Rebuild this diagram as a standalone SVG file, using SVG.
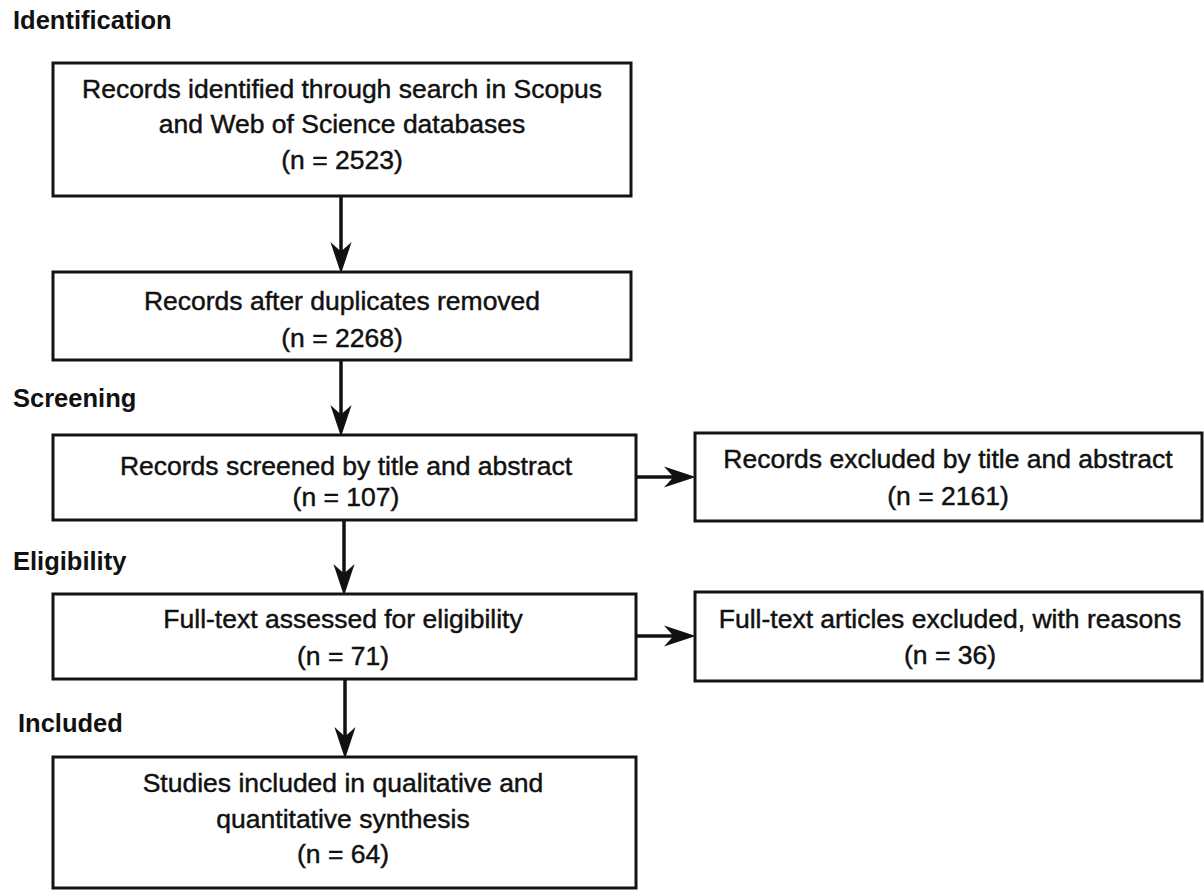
<svg xmlns="http://www.w3.org/2000/svg" width="1204" height="890" viewBox="0 0 1204 890">
  <style>
    .box { fill: #ffffff; stroke: #141414; stroke-width: 3; }
    .t { font-family: "Liberation Sans", Arial, sans-serif; font-size: 26.5px; fill: #111111; stroke: #111111; stroke-width: 0.45; text-anchor: middle; }
    .lbl { font-family: "Liberation Sans", Arial, sans-serif; font-size: 25.5px; font-weight: bold; fill: #111111; }
    .conn { stroke: #111111; stroke-width: 3.5; fill: none; marker-end: url(#ah); }
  </style>
  <defs>
    <marker id="ah" markerUnits="userSpaceOnUse" markerWidth="40" markerHeight="30" viewBox="-20 -12 34 24" refX="0" refY="0" orient="auto" overflow="visible">
      <path d="M10,0 L-17,-9 L-9,0 L-17,9 Z" fill="#111111"/>
    </marker>
  </defs>
  <rect x="0" y="0" width="1204" height="890" fill="#ffffff"/>

  <g id="labels">
    <text class="lbl" x="13" y="29">Identification</text>
    <text class="lbl" x="13" y="407">Screening</text>
    <text class="lbl" x="13" y="570">Eligibility</text>
    <text class="lbl" x="18" y="732">Included</text>
  </g>

  <g id="connectors">
    <line class="conn" x1="341" y1="196" x2="341" y2="262"/>
    <line class="conn" x1="341" y1="360" x2="341" y2="425"/>
    <line class="conn" x1="344" y1="520" x2="344" y2="584"/>
    <line class="conn" x1="345" y1="679" x2="345" y2="747"/>
    <line class="conn" x1="636" y1="477" x2="684" y2="477"/>
    <line class="conn" x1="636" y1="636" x2="684" y2="636"/>
  </g>

  <g id="identified">
    <rect class="box" x="53" y="63" width="578" height="133"/>
    <text class="t" x="342" y="98">Records identified through search in Scopus</text>
    <text class="t" x="342" y="133">and Web of Science databases</text>
    <text class="t" x="342" y="169">(n = 2523)</text>
  </g>

  <g id="duplicates">
    <rect class="box" x="53" y="272" width="578" height="88"/>
    <text class="t" x="342" y="310">Records after duplicates removed</text>
    <text class="t" x="342" y="347">(n = 2268)</text>
  </g>

  <g id="screened">
    <rect class="box" x="53" y="435" width="583" height="85"/>
    <text class="t" x="346" y="475">Records screened by title and abstract</text>
    <text class="t" x="346" y="506">(n = 107)</text>
  </g>

  <g id="excluded1">
    <rect class="box" x="695" y="433" width="507" height="88"/>
    <text class="t" x="948" y="468">Records excluded by title and abstract</text>
    <text class="t" x="948" y="505">(n = 2161)</text>
  </g>

  <g id="fulltext">
    <rect class="box" x="53" y="594" width="583" height="85"/>
    <text class="t" x="343" y="628">Full-text assessed for eligibility</text>
    <text class="t" x="343" y="665">(n = 71)</text>
  </g>

  <g id="excluded2">
    <rect class="box" x="695" y="592" width="507" height="89"/>
    <text class="t" x="950" y="628">Full-text articles excluded, with reasons</text>
    <text class="t" x="950" y="664">(n = 36)</text>
  </g>

  <g id="included">
    <rect class="box" x="53" y="757" width="583" height="131"/>
    <text class="t" x="343" y="792">Studies included in qualitative and</text>
    <text class="t" x="343" y="828">quantitative synthesis</text>
    <text class="t" x="343" y="863">(n = 64)</text>
  </g>
</svg>
